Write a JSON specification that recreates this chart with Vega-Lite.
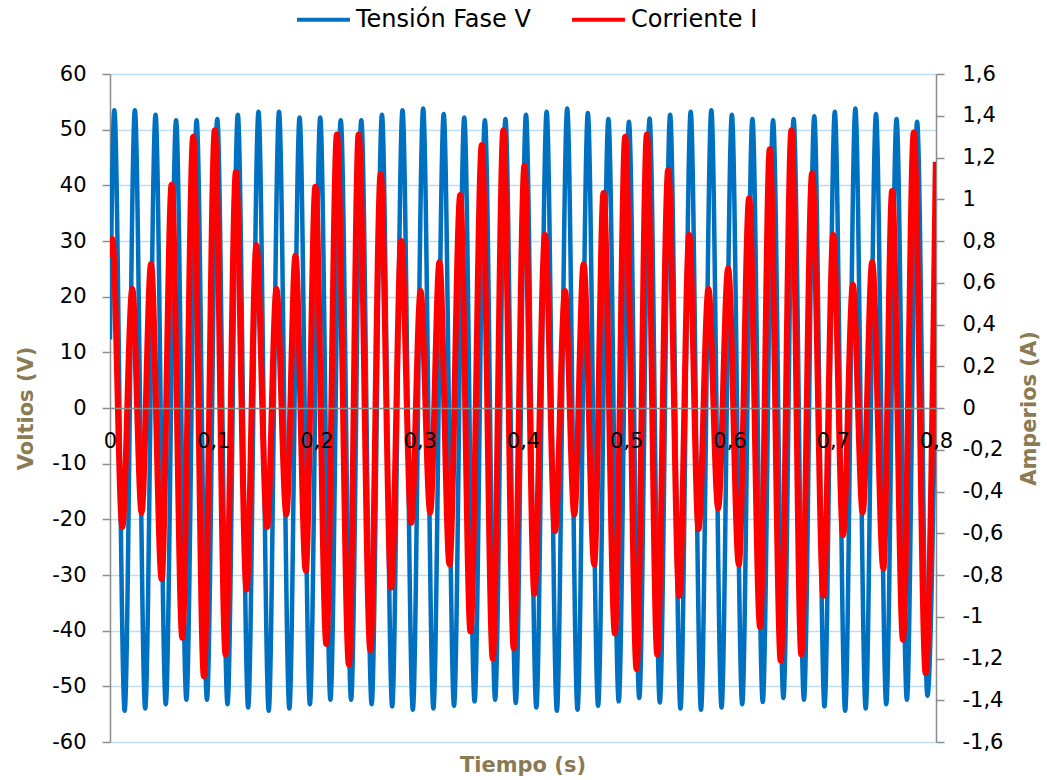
{
  "$schema": "https://vega.github.io/schema/vega-lite/v6.json",
  "width": 826,
  "height": 668,
  "autosize": {"type": "none"},
  "padding": {"left": 110, "top": 74, "right": 111, "bottom": 38},
  "background": "#ffffff",
  "config": {"view": {"stroke": null}, "font": "DejaVu Sans"},
  "title": {"text": "Tiempo (s)", "orient": "bottom", "anchor": "middle", "frame": "group", "offset": 3, "fontSize": 21, "fontWeight": "bold", "color": "#8B7B52"},
  "datasets": {
    "tension": [
      {"t":0,"v":12.3},
      {"t":0.0042,"v":53.5},{"t":0.0142,"v":-54.4},
      {"t":0.0241,"v":53.5},{"t":0.0341,"v":-54.0},
      {"t":0.0441,"v":52.7},{"t":0.054,"v":-53.2},
      {"t":0.064,"v":51.7},{"t":0.074,"v":-52.4},
      {"t":0.0839,"v":51.7},{"t":0.0939,"v":-52.4},
      {"t":0.1039,"v":51.9},{"t":0.1138,"v":-53.2},
      {"t":0.1238,"v":52.7},{"t":0.1338,"v":-53.8},
      {"t":0.1438,"v":53.2},{"t":0.1537,"v":-54.4},
      {"t":0.1637,"v":53.2},{"t":0.1737,"v":-54.0},
      {"t":0.1836,"v":52.2},{"t":0.1936,"v":-53.2},
      {"t":0.2036,"v":52.2},{"t":0.2135,"v":-52.4},
      {"t":0.2235,"v":51.7},{"t":0.2335,"v":-52.4},
      {"t":0.2434,"v":51.7},{"t":0.2534,"v":-53.2},
      {"t":0.2634,"v":52.7},{"t":0.2733,"v":-53.6},
      {"t":0.2833,"v":53.5},{"t":0.2933,"v":-54.2},
      {"t":0.3033,"v":53.8},{"t":0.3132,"v":-54.0},
      {"t":0.3232,"v":52.8},{"t":0.3332,"v":-53.5},
      {"t":0.3431,"v":52.2},{"t":0.3531,"v":-52.7},
      {"t":0.3631,"v":51.7},{"t":0.373,"v":-52.4},
      {"t":0.383,"v":51.9},{"t":0.393,"v":-53.0},
      {"t":0.4029,"v":52.7},{"t":0.4129,"v":-53.8},
      {"t":0.4229,"v":53.2},{"t":0.4328,"v":-54.4},
      {"t":0.4428,"v":53.8},{"t":0.4528,"v":-54.2},
      {"t":0.4628,"v":53.0},{"t":0.4727,"v":-53.5},
      {"t":0.4827,"v":51.9},{"t":0.4927,"v":-52.7},
      {"t":0.5026,"v":51.4},{"t":0.5126,"v":-52.1},
      {"t":0.5226,"v":52.0},{"t":0.5325,"v":-52.9},
      {"t":0.5425,"v":52.7},{"t":0.5525,"v":-54.0},
      {"t":0.5624,"v":53.2},{"t":0.5724,"v":-54.2},
      {"t":0.5824,"v":53.5},{"t":0.5923,"v":-53.8},
      {"t":0.6023,"v":52.7},{"t":0.6123,"v":-53.2},
      {"t":0.6222,"v":51.9},{"t":0.6322,"v":-52.8},
      {"t":0.6422,"v":51.7},{"t":0.6522,"v":-52.1},
      {"t":0.6621,"v":51.9},{"t":0.6721,"v":-52.4},
      {"t":0.6821,"v":52.4},{"t":0.692,"v":-53.6},
      {"t":0.702,"v":53.2},{"t":0.712,"v":-54.4},
      {"t":0.7219,"v":53.8},{"t":0.7319,"v":-54.0},
      {"t":0.7419,"v":52.8},{"t":0.7518,"v":-53.2},
      {"t":0.7618,"v":51.9},{"t":0.7718,"v":-52.4},
      {"t":0.7817,"v":51.4},{"t":0.7917,"v":-51.7},
      {"t":0.8,"v":12.0}
    ],
    "corriente": [
      {"t":0,"i":0.72},
      {"t":0.0023,"i":0.81},{"t":0.0119,"i":-0.57},
      {"t":0.0216,"i":0.57},{"t":0.0306,"i":-0.50},
      {"t":0.0397,"i":0.69},{"t":0.05,"i":-0.82},
      {"t":0.0597,"i":1.07},{"t":0.07,"i":-1.10},
      {"t":0.0806,"i":1.30},{"t":0.0909,"i":-1.285},
      {"t":0.1015,"i":1.33},{"t":0.1119,"i":-1.18},
      {"t":0.1219,"i":1.13},{"t":0.1322,"i":-0.87},
      {"t":0.1418,"i":0.78},{"t":0.1522,"i":-0.57},
      {"t":0.1612,"i":0.57},{"t":0.1708,"i":-0.51},
      {"t":0.1796,"i":0.73},{"t":0.1896,"i":-0.78},
      {"t":0.1989,"i":1.06},{"t":0.2095,"i":-1.13},
      {"t":0.2198,"i":1.31},{"t":0.2314,"i":-1.23},
      {"t":0.2408,"i":1.31},{"t":0.2521,"i":-1.16},
      {"t":0.2621,"i":1.12},{"t":0.2724,"i":-0.86},
      {"t":0.2821,"i":0.80},{"t":0.2918,"i":-0.55},
      {"t":0.3008,"i":0.56},{"t":0.3101,"i":-0.50},
      {"t":0.3191,"i":0.70},{"t":0.3288,"i":-0.75},
      {"t":0.3392,"i":1.02},{"t":0.3491,"i":-1.07},
      {"t":0.3601,"i":1.26},{"t":0.3707,"i":-1.20},
      {"t":0.381,"i":1.33},{"t":0.391,"i":-1.15},
      {"t":0.4014,"i":1.16},{"t":0.411,"i":-0.89},
      {"t":0.4213,"i":0.83},{"t":0.431,"i":-0.59},
      {"t":0.4407,"i":0.56},{"t":0.4497,"i":-0.51},
      {"t":0.4587,"i":0.69},{"t":0.469,"i":-0.75},
      {"t":0.478,"i":1.03},{"t":0.489,"i":-1.08},
      {"t":0.499,"i":1.30},{"t":0.51,"i":-1.25},
      {"t":0.52,"i":1.31},{"t":0.53,"i":-1.18},
      {"t":0.5406,"i":1.14},{"t":0.5513,"i":-0.90},
      {"t":0.561,"i":0.83},{"t":0.57,"i":-0.58},
      {"t":0.5796,"i":0.57},{"t":0.589,"i":-0.48},
      {"t":0.5987,"i":0.67},{"t":0.609,"i":-0.75},
      {"t":0.619,"i":1.005},{"t":0.6296,"i":-1.05},
      {"t":0.639,"i":1.24},{"t":0.6496,"i":-1.21},
      {"t":0.66,"i":1.33},{"t":0.6695,"i":-1.18},
      {"t":0.68,"i":1.125},{"t":0.691,"i":-0.90},
      {"t":0.7005,"i":0.83},{"t":0.71,"i":-0.61},
      {"t":0.7195,"i":0.59},{"t":0.729,"i":-0.50},
      {"t":0.7382,"i":0.70},{"t":0.749,"i":-0.77},
      {"t":0.7575,"i":1.04},{"t":0.768,"i":-1.11},
      {"t":0.7785,"i":1.32},{"t":0.79,"i":-1.27},
      {"t":0.7998,"i":1.18}
    ]
  },
  "layer": [
    {
      "data": {"name": "tension"},
      "mark": {"type": "line", "interpolate": "monotone", "strokeWidth": 4.5, "clip": true},
      "encoding": {
        "x": {
          "field": "t", "type": "quantitative",
          "scale": {"domain": [0, 0.8], "nice": false, "zero": false},
          "axis": {
            "orient": "bottom", "offset": -334, "title": null,
            "values": [0, 0.1, 0.2, 0.3, 0.4, 0.5, 0.6, 0.7, 0.8],
            "labelExpr": "replace(toString(datum.value), '.', ',')",
            "grid": false, "ticks": false,
            "domainColor": "#8c8c8c", "domainWidth": 1.5,
            "labelFontSize": 21, "labelPadding": 22, "labelColor": "#000000",
            "labelOverlap": false, "labelBound": false, "labelFlush": false,
            "zindex": 1
          }
        },
        "y": {
          "field": "v", "type": "quantitative",
          "scale": {"domain": [-60, 60], "nice": false, "zero": false},
          "axis": {
            "orient": "left", "title": "Voltios (V)",
            "values": [-60, -50, -40, -30, -20, -10, 0, 10, 20, 30, 40, 50, 60],
            "labelExpr": "toString(datum.value)",
            "grid": true, "gridColor": "#BDDDF4", "gridWidth": 1.5,
            "tickSize": 8, "tickColor": "#8c8c8c", "tickWidth": 1.5,
            "domainColor": "#8c8c8c", "domainWidth": 1.5,
            "labelFontSize": 21, "labelPadding": 16, "labelColor": "#000000",
            "titleFontSize": 21, "titleFontWeight": "bold", "titleColor": "#8B7B52", "titlePadding": 15
          }
        },
        "color": {
          "datum": "Tensión Fase V", "type": "nominal",
          "scale": {"domain": ["Tensión Fase V", "Corriente I"], "range": ["#0070C0", "#FF0000"]},
          "legend": {
            "orient": "none", "legendX": 185, "legendY": -83, "direction": "horizontal", "title": null,
            "symbolType": "stroke", "symbolSize": 2800, "symbolStrokeWidth": 4,
            "labelFontSize": 24, "labelColor": "#000000", "labelOffset": 4, "columnPadding": 33, "labelLimit": 400
          }
        }
      }
    },
    {
      "data": {"name": "corriente"},
      "mark": {"type": "line", "interpolate": "monotone", "strokeWidth": 6, "clip": true},
      "encoding": {
        "x": {"field": "t", "type": "quantitative"},
        "y": {
          "field": "i", "type": "quantitative",
          "scale": {"domain": [-1.6, 1.6], "nice": false, "zero": false},
          "axis": {
            "orient": "right", "title": "Amperios (A)",
            "values": [-1.6, -1.4, -1.2, -1, -0.8, -0.6, -0.4, -0.2, 0, 0.2, 0.4, 0.6, 0.8, 1, 1.2, 1.4, 1.6],
            "labelExpr": "replace(toString(datum.value), '.', ',')",
            "grid": false,
            "tickSize": 8, "tickColor": "#8c8c8c", "tickWidth": 1.5,
            "domainColor": "#8c8c8c", "domainWidth": 1.5,
            "labelFontSize": 21, "labelPadding": 18, "labelColor": "#000000",
            "titleFontSize": 21, "titleFontWeight": "bold", "titleColor": "#8B7B52", "titlePadding": 16, "titleAngle": 270, "titleBaseline": "top"
          }
        },
        "color": {"datum": "Corriente I", "type": "nominal"}
      }
    }
  ],
  "resolve": {"scale": {"y": "independent"}}
}
